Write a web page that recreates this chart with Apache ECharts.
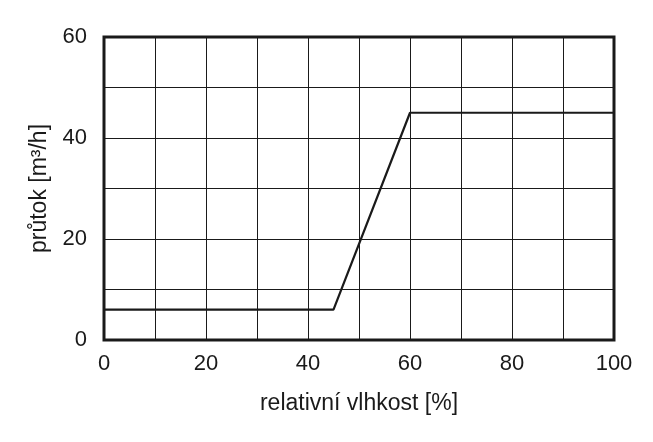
<!DOCTYPE html>
<html>
<head>
<meta charset="utf-8">
<script src="https://cdn.jsdelivr.net/npm/echarts@6/dist/echarts.min.js"></script>
<style>html,body{margin:0;padding:0;background:#fff}#c{width:653px;height:442px}</style>
</head>
<body>
<div id="c"></div>
<script>
const humidity = [0, 45, 60, 100];
const flow = [6, 6, 45, 45];
const xTicks = [0, 20, 40, 60, 80, 100];
const yTicks = [0, 20, 40, 60];
const xName = 'relativní vlhkost [%]';
const yName = 'průtok [m³/h]';

const chart = echarts.init(document.getElementById('c'), null, {renderer: 'canvas'});
const font = 'Liberation Sans, Arial, sans-serif';
const ink = '#1a1a1a';
chart.setOption({
  animation: false,
  backgroundColor: '#fff',
  grid: {left: 104, right: 39, top: 37, bottom: 102, show: true, borderColor: ink, borderWidth: 3, backgroundColor: 'transparent'},
  xAxis: {
    type: 'value', min: 0, max: 100, interval: 10,
    name: xName, nameLocation: 'middle', nameGap: 52,
    nameTextStyle: {fontFamily: font, fontSize: 23, color: ink},
    axisLine: {show: false}, axisTick: {show: false},
    axisLabel: {fontFamily: font, fontSize: 22, color: ink, margin: 13,
      formatter: v => xTicks.includes(v) ? String(v) : ''},
    splitLine: {show: true, lineStyle: {color: ink, width: 1}}
  },
  yAxis: {
    type: 'value', min: 0, max: 60, interval: 10,
    name: yName, nameLocation: 'middle', nameGap: 50,
    nameTextStyle: {fontFamily: font, fontSize: 23, color: ink},
    axisLine: {show: false}, axisTick: {show: false},
    axisLabel: {fontFamily: font, fontSize: 22, color: ink, margin: 17,
      formatter: v => yTicks.includes(v) ? String(v) : ''},
    splitLine: {show: true, lineStyle: {color: ink, width: 1}}
  },
  series: [{
    type: 'line',
    data: humidity.map((h, i) => [h, flow[i]]),
    symbol: 'none',
    lineStyle: {color: ink, width: 2.2},
    z: 3
  }]
});
</script>
</body>
</html>
